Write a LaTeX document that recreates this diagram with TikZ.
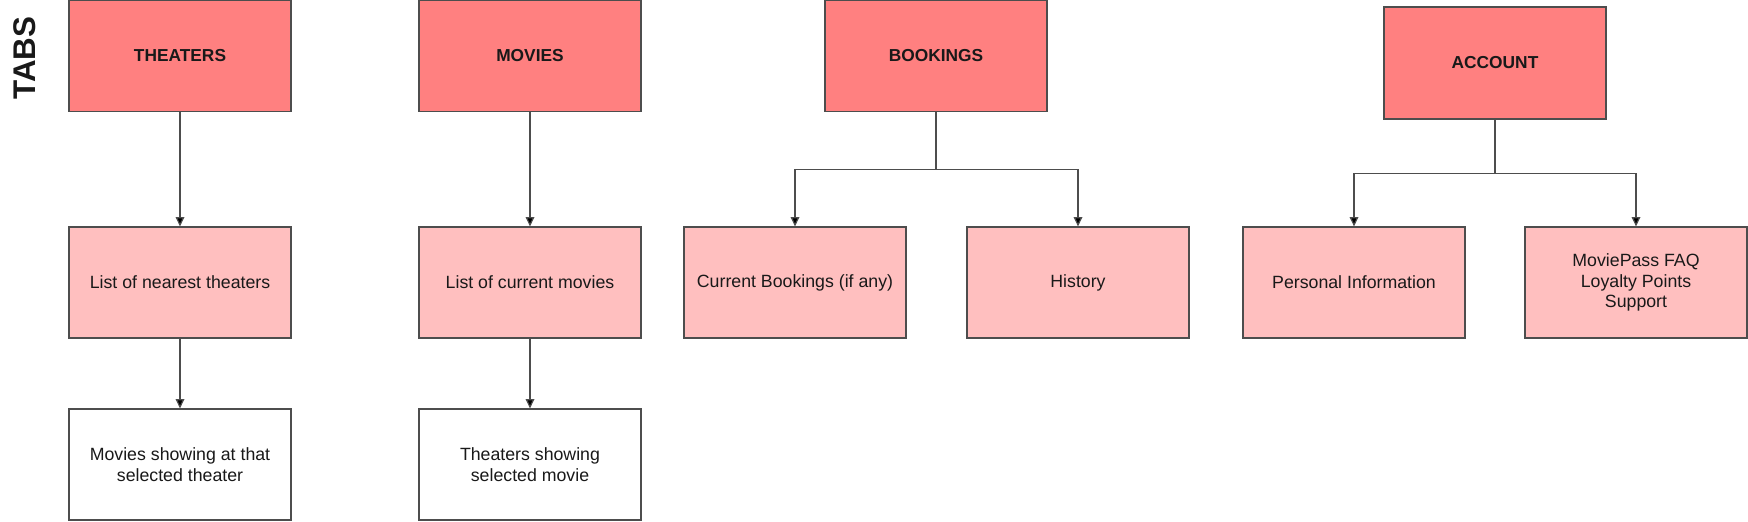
\documentclass[tikz,border=0pt]{standalone}
\usepackage{fontspec}
\setmainfont{Liberation Sans}
\usetikzlibrary{arrows.meta}
\definecolor{tabred}{HTML}{FF8080}
\definecolor{subred}{HTML}{FFBFBF}
\definecolor{edgegray}{HTML}{4D4D4D}

\begin{document}
\begin{tikzpicture}[x=0.75pt,y=-0.75pt]
\tikzstyle{every node}+=[inner sep=0pt, font=\fontsize{13.3}{15.6}\selectfont, text=black!90]
\tikzstyle{box}=[draw=edgegray, line width=0.9pt, minimum width=166.5pt, minimum height=83.25pt, align=center]
\tikzstyle{tab}=[box, fill=tabred, font=\fontsize{13}{15.6}\selectfont\bfseries]
\tikzstyle{sub}=[box, fill=subred]
\tikzstyle{leaf}=[box, fill=white]
\tikzstyle{link}=[draw=edgegray, line width=0.9pt, -{Triangle[length=7pt,width=6.5pt,fill=black]}]
\useasboundingbox (0,0) rectangle (1748,521);
\node [rotate=90, font=\fontsize{23.5}{26}\selectfont\bfseries] (tabs) at (25,58) {TABS};
\node [tab] (theaters) at (180,56) {THEATERS};
\node [tab] (movies) at (530,56) {MOVIES};
\node [tab] (bookings) at (936,56) {BOOKINGS};
\node [tab, minimum height=84pt] (account) at (1495,63) {ACCOUNT};
\node [sub] (nearest) at (180,282.5) {List of nearest theaters};
\node [sub] (current) at (530,282.5) {List of current movies};
\node [sub] (curbook) at (795,282.5) {Current Bookings (if any)};
\node [sub] (history) at (1078,282.5) {History};
\node [sub] (personal) at (1354,282.5) {Personal Information};
\node [sub] (faq) at (1636,282.5) {MoviePass FAQ\\Loyalty Points\\Support};
\node [leaf] (showing) at (180,464.5) {Movies showing at that\\selected theater};
\node [leaf] (selected) at (530,464.5) {Theaters showing\\selected movie};
\draw [link] (theaters) -- (nearest);
\draw [link] (nearest) -- (showing);
\draw [link] (movies) -- (current);
\draw [link] (current) -- (selected);
\draw [link] (bookings.south) -- ++(0,57) -| (curbook.north);
\draw [link] (bookings.south) -- ++(0,57) -| (history.north);
\draw [link] (account.south) -- ++(0,54) -| (personal.north);
\draw [link] (account.south) -- ++(0,54) -| (faq.north);
\end{tikzpicture}
\end{document}
